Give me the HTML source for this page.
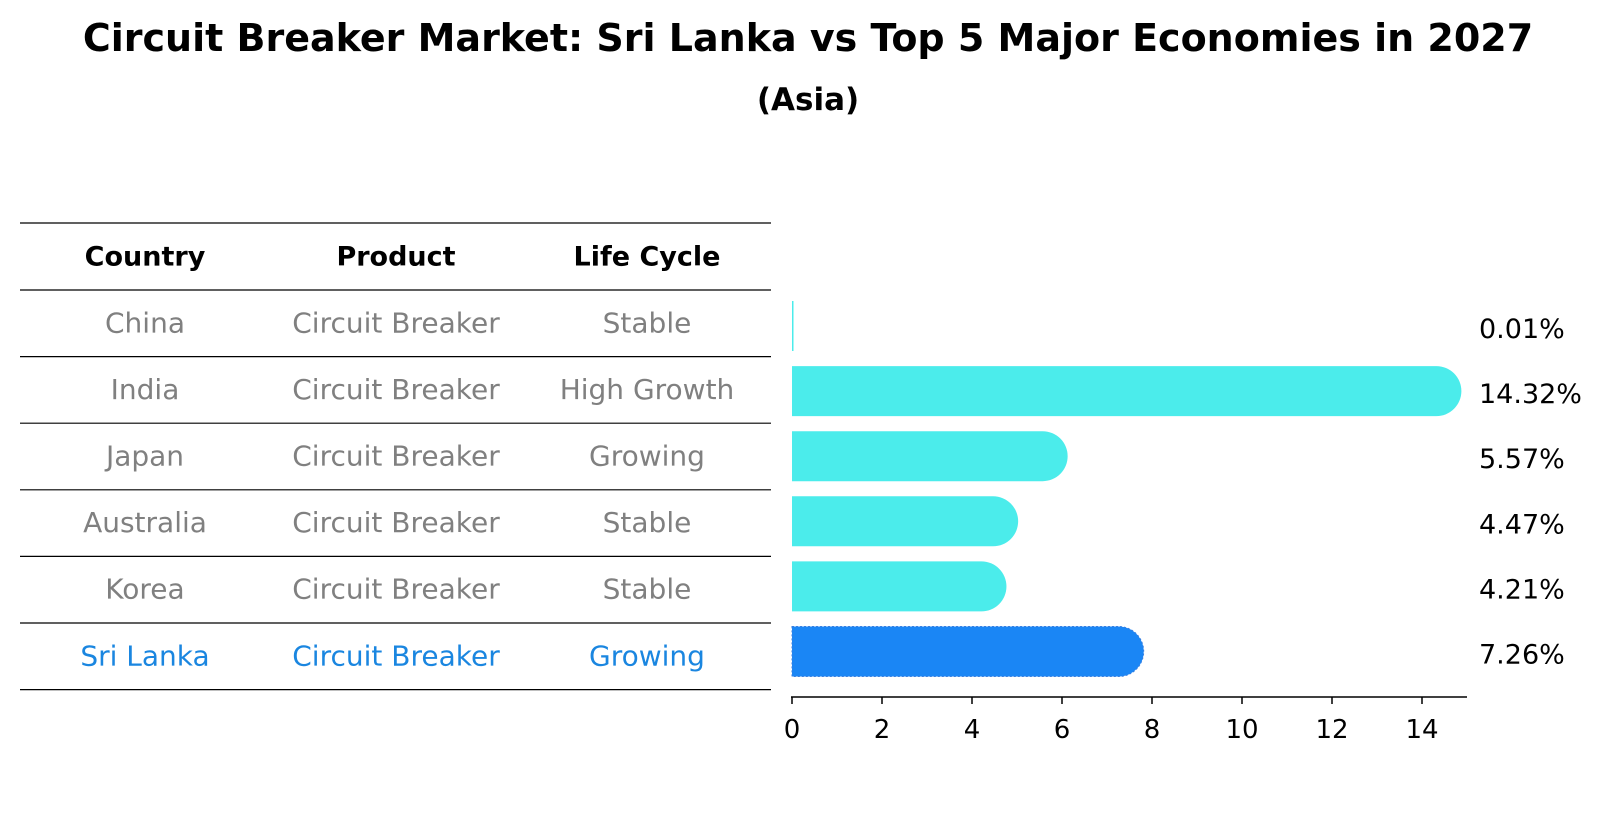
<!DOCTYPE html>
<html><head><meta charset="utf-8"><style>
body{margin:0;background:#fff;font-family:"Liberation Sans","DejaVu Sans",sans-serif;}
svg text{font-family:"DejaVu Sans","Liberation Sans",sans-serif;}
</style></head><body>
<svg id="c" width="1604" height="823" xmlns="http://www.w3.org/2000/svg">
<text x="808" y="51" text-anchor="middle" font-size="38" font-weight="bold">Circuit Breaker Market: Sri Lanka vs Top 5 Major Economies in 2027</text>
<text x="808" y="110" text-anchor="middle" font-size="31" font-weight="bold">(Asia)</text>
<g id="tbl"></g>
<g id="bars"></g>
</svg>
<script>
const countries=["China","India","Japan","Australia","Korea","Sri Lanka"];
const products=["Circuit Breaker","Circuit Breaker","Circuit Breaker","Circuit Breaker","Circuit Breaker","Circuit Breaker"];
const lifeCycles=["Stable","High Growth","Growing","Stable","Stable","Growing"];
const values=[0.01,14.32,5.57,4.47,4.21,7.26];
const valueLabels=["0.01%","14.32%","5.57%","4.47%","4.21%","7.26%"];
const ticks=[0,2,4,6,8,10,12,14];
const NS="http://www.w3.org/2000/svg";
function mk(t,a,p){const e=document.createElementNS(NS,t);for(const k in a)e.setAttribute(k,a[k]);p.appendChild(e);return e;}
const tbl=document.getElementById('tbl'),bars=document.getElementById('bars');
const top0=223,head=67,rowH=66.6,colX=[145,396,647];
const rowY=i=>top0+head+rowH*i+rowH/2;
const barY=i=>326+65.1*i;
const xS=v=>792+v*45;
for(let i=0;i<=countries.length+1;i++){const y=i==0?top0:top0+head+rowH*(i-1);
const l=mk('line',{x1:20,x2:771,y1:y,y2:y,stroke:'#000','stroke-width':1.2},tbl);

}
["Country","Product","Life Cycle"].forEach((h,j)=>{const t=mk('text',{x:colX[j],y:top0+head/2+9,'text-anchor':'middle','font-size':27,'font-weight':'bold'},tbl);t.textContent=h;

});
countries.forEach((c,i)=>{const col=i==countries.length-1?'#1a86e0':'#808080';
[c,products[i],lifeCycles[i]].forEach((s,j)=>{const t=mk('text',{x:colX[j],y:rowY(i)+9,'text-anchor':'middle','font-size':28,fill:col},tbl);t.textContent=s;

});});
const bh=50;
values.forEach((v,i)=>{const cy=barY(i),last=i==values.length-1;
const col=last?'#1a86f5':'#4beceb';
const r=bh/2;
let b;
if(v<0.1){b=mk('rect',{x:xS(0),y:cy-r,width:1.5,height:bh,fill:col},bars);}
else b=mk('path',{d:`M${xS(0)},${cy-r}H${xS(v)}A${r},${r} 0 0 1 ${xS(v)},${cy+r}H${xS(0)}Z`,fill:col,stroke:last?'#3a7fe0':'none','stroke-dasharray':last?'2 2':'none'},bars);


const t=mk('text',{x:1479,y:cy+12,'font-size':27},bars);t.textContent=valueLabels[i];

});
const ay=697;
const ax=mk('line',{x1:xS(0)-1,x2:xS(15),y1:ay,y2:ay,stroke:'#000','stroke-width':1.5},bars);


ticks.forEach(t=>{const l=mk('line',{x1:xS(t),x2:xS(t),y1:ay,y2:ay+7,stroke:'#000','stroke-width':1.5},bars);


const tx=mk('text',{x:xS(t),y:ay+41,'text-anchor':'middle','font-size':26},bars);tx.textContent=t;

});
</script>
</body></html>
